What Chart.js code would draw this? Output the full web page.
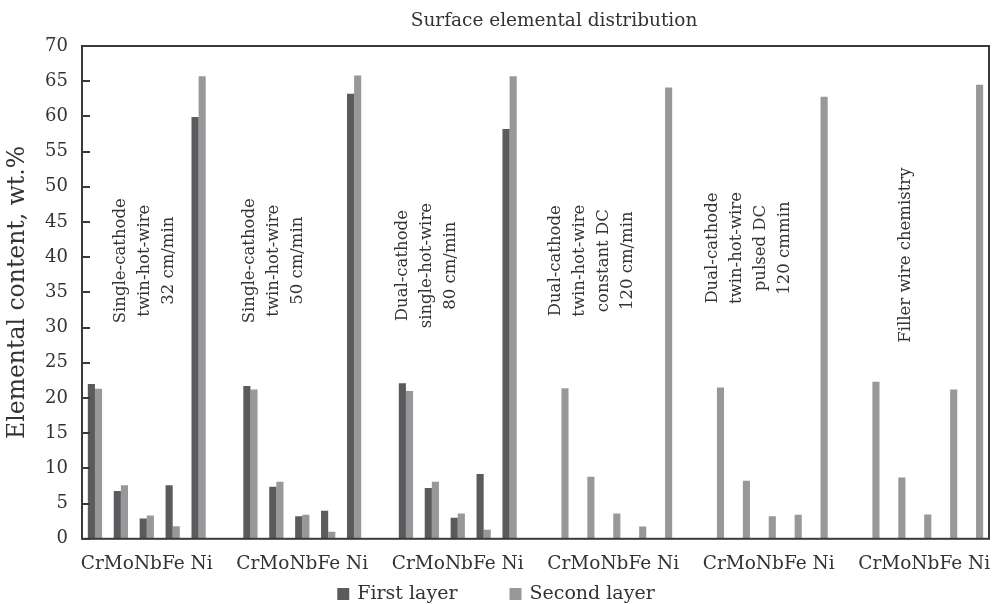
<!DOCTYPE html>
<html><head><meta charset="utf-8">
<script src="https://cdn.jsdelivr.net/npm/chart.js@4.4.0/dist/chart.umd.min.js"></script>
<style>html,body{margin:0;padding:0;background:#fff}#wrap{width:995px;height:604px;position:relative}</style>
</head><body><div id="wrap"><canvas id="c" width="995" height="604"></canvas></div>
<script>
const elements = ['Cr', 'Mo', 'Nb', 'Fe', 'Ni'];
const groupTickLabels = ['CrMoNbFe Ni', 'CrMoNbFe Ni', 'CrMoNbFe Ni', 'CrMoNbFe Ni', 'CrMoNbFe Ni', 'CrMoNbFe Ni'];
const processLabels = [
  ['Single-cathode', 'twin-hot-wire', '32 cm/min'],
  ['Single-cathode', 'twin-hot-wire', '50 cm/min'],
  ['Dual-cathode', 'single-hot-wire', '80 cm/min'],
  ['Dual-cathode', 'twin-hot-wire', 'constant DC', '120 cm/min'],
  ['Dual-cathode', 'twin-hot-wire', 'pulsed DC', '120 cmmin'],
  ['Filler wire chemistry']
];
const firstLayer = [
  [22.0, 6.8, 2.9, 7.6, 59.9],
  [21.7, 7.4, 3.2, 4.0, 63.2],
  [22.1, 7.2, 3.0, 9.2, 58.2],
  [null, null, null, null, null],
  [null, null, null, null, null],
  [null, null, null, null, null]
];
const secondLayer = [
  [21.3, 7.6, 3.3, 1.8, 65.7],
  [21.2, 8.1, 3.4, 1.0, 65.8],
  [21.0, 8.1, 3.6, 1.3, 65.7],
  [21.4, 8.8, 3.6, 1.75, 64.1],
  [21.5, 8.25, 3.2, 3.4, 62.8],
  [22.3, 8.7, 3.45, 21.2, 64.5]
];
const seriesNames = ['First layer', 'Second layer'];
const yMin = 0, yMax = 70, yStep = 5;

// build slot labels (5 elements per group + one empty spacer slot between groups)
const labels = [], d1 = [], d2 = [], midSlot = {};
groupTickLabels.forEach((gl, g) => {
  elements.forEach((el, i) => {
    if (i === 2) midSlot[labels.length] = gl;
    labels.push(el);
    d1.push(firstLayer[g][i]);
    d2.push(secondLayer[g][i]);
  });
  if (g < groupTickLabels.length - 1) { labels.push(''); d1.push(null); d2.push(null); }
});

const FONT = "'DejaVu Serif', serif";
const TXT = '#333333';
const colors = ['#5b5b5d', '#98989a'];

const annotPos = [ // [slot offset within group, y value] placement of rotated notes
  [1.93, 39.5], [0.91, 39.5], [0.8, 38.8], [1.18, 39.5], [1.24, 41.3], [1.3, 40.3]
];

const decor = {
  id: 'decor',
  afterDraw(chart) {
    const ctx = chart.ctx, a = chart.chartArea;
    const xs = chart.scales.x, ys = chart.scales.y;
    ctx.save();
    // frame
    ctx.strokeStyle = '#3a3a3a';
    ctx.lineWidth = 2;
    ctx.strokeRect(a.left, a.top, a.right - a.left, a.bottom - a.top);
    // inner tick marks
    ys.ticks.forEach(t => {
      const y = Math.round(ys.getPixelForValue(t.value));
      ctx.beginPath(); ctx.moveTo(a.left, y); ctx.lineTo(a.left + 8, y); ctx.stroke();
    });
    // title
    ctx.fillStyle = TXT;
    ctx.font = '18.5px ' + FONT;
    ctx.textAlign = 'center'; ctx.textBaseline = 'middle';
    ctx.fillText('Surface elemental distribution', 554, 21);
    // rotated annotations
    ctx.font = '16.5px ' + FONT;
    processLabels.forEach((lines, g) => {
      const x = xs.getPixelForValue(g * 6 + annotPos[g][0]);
      const y = ys.getPixelForValue(annotPos[g][1]);
      ctx.save();
      ctx.translate(x, y);
      ctx.rotate(-Math.PI / 2);
      lines.forEach((ln, i) => ctx.fillText(ln, 0, (i - (lines.length - 1) / 2) * 24));
      ctx.restore();
    });
    // legend
    ctx.font = '19px ' + FONT;
    ctx.textAlign = 'left';
    const items = chart.data.datasets.map(ds => ({ label: ds.label, color: ds.backgroundColor, w: ctx.measureText(ds.label).width }));
    const gap = 52, box = 12, boxGap = 8;
    const total = items.reduce((s, it) => s + box + boxGap + it.w, 0) + gap * (items.length - 1);
    let x = 496 - total / 2;
    const ly = 594;
    items.forEach(it => {
      ctx.fillStyle = it.color;
      ctx.fillRect(x, ly - box / 2, box, box);
      ctx.fillStyle = TXT;
      ctx.fillText(it.label, x + box + boxGap, ly);
      x += box + boxGap + it.w + gap;
    });
    ctx.restore();
  }
};

new Chart(document.getElementById('c'), {
  type: 'bar',
  data: {
    labels,
    datasets: [
      { label: seriesNames[0], data: d1, backgroundColor: colors[0] },
      { label: seriesNames[1], data: d2, backgroundColor: colors[1] }
    ]
  },
  options: {
    responsive: false,
    animation: false,
    devicePixelRatio: 1,
    layout: { padding: { left: 0, right: 6, top: 46, bottom: 15 } },
    datasets: { bar: { categoryPercentage: 0.55, barPercentage: 1.0 } },
    plugins: { legend: { display: false }, tooltip: { enabled: false }, title: { display: false } },
    scales: {
      x: {
        grid: { display: false, drawTicks: false },
        border: { display: false },
        ticks: {
          autoSkip: false, maxRotation: 0, minRotation: 0, padding: 14,
          color: TXT, font: { family: FONT, size: 18.5 },
          callback: (v, i) => midSlot[i] || ''
        }
      },
      y: {
        min: yMin, max: yMax,
        grid: { display: false, drawTicks: false },
        border: { display: false },
        ticks: { stepSize: yStep, padding: 14, color: TXT, font: { family: FONT, size: 18 } },
        title: { display: true, text: 'Elemental content, wt.%', color: TXT, font: { family: FONT, size: 23.5 }, padding: { top: 4, bottom: 0 } },
        afterFit(scale) { scale.width = 82; }
      }
    }
  },
  plugins: [decor]
});
</script></body></html>
